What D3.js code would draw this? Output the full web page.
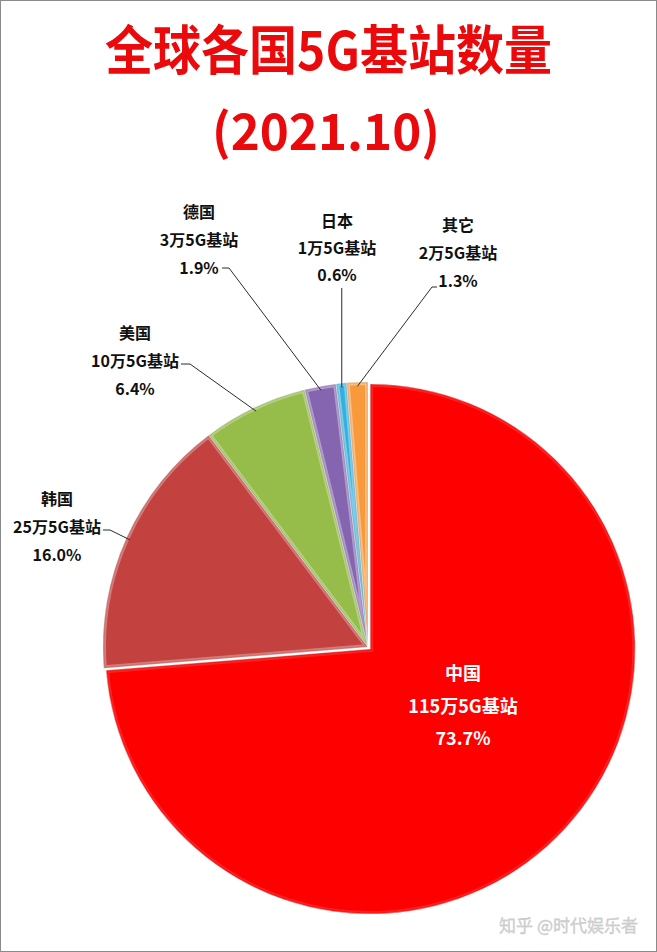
<!DOCTYPE html>
<html><head><meta charset="utf-8">
<script src="https://cdn.jsdelivr.net/npm/d3@7/dist/d3.min.js"></script>
<style>
html,body{margin:0;padding:0;background:#fff;}
svg{display:block;}
text{font-family:"Noto Sans CJK SC","Microsoft YaHei",sans-serif;}
</style></head>
<body>
<svg id="chart" width="657" height="952"></svg>
<script>
// ---- data ----
const categories = ["中国", "韩国", "美国", "德国", "日本", "其它"];
const values = [115, 25, 10, 3, 1, 2];              // 万个5G基站
const percentLabels = ["73.7%", "16.0%", "6.4%", "1.9%", "0.6%", "1.3%"];
const countLabels = ["115万5G基站", "25万5G基站", "10万5G基站", "3万5G基站", "1万5G基站", "2万5G基站"];
const titleLines = ["全球各国5G基站数量", "(2021.10)"];

// ---- styling / layout ----
const colorsTop = ["#ff0000", "#c3413e", "#96bc4a", "#8565b0", "#35b0de", "#f89a3c"];
const colorsBot = ["#fa0000", "#8c2c2a", "#789a35", "#684a92", "#1f95c4", "#e57d1d"];
const rimOpacity = [0.12, 0.3, 0.3, 0.35, 0.35, 0.35];
const W = 657, H = 952;
const cx = 368, cy = 647, R = 265;
const labelLayout = [
  {x: 463, y: 672, dy: 32.5, size: 18, color: "#fff", inside: true},
  {x: 57,  y: 498, dy: 28, size: 16, color: "#111", stub: [103, 110, 530]},
  {x: 135, y: 332, dy: 28, size: 16, color: "#111", stub: [181, 190, 364]},
  {x: 199, y: 211, dy: 28, size: 16, color: "#111", stub: [222, 229, 268]},
  {x: 337, y: 220, dy: 27, size: 16, color: "#111", vertical: 288},
  {x: 458, y: 224, dy: 28, size: 16, color: "#111", stub: [437, 432, 287]}
];
const explode = [3, 0, 0, 0, 0, 0];

const svg = d3.select("#chart");
const defs = svg.append("defs");

// frame
svg.append("rect").attr("x", 0.5).attr("y", 0.5).attr("width", W - 1).attr("height", H - 1)
  .attr("fill", "#fff").attr("stroke", "#8a8a8a").attr("stroke-width", 1);

// title
svg.append("text").attr("x", 328.5).attr("y", 47).attr("text-anchor", "middle")
  .attr("dominant-baseline", "central")
  .attr("font-size", 53).attr("font-weight", 700).attr("fill", "#ea0a0c")
  .attr("textLength", 447).attr("lengthAdjust", "spacingAndGlyphs")
  .text(titleLines[0]);
svg.append("text").attr("x", 326).attr("y", 128).attr("text-anchor", "middle")
  .attr("dominant-baseline", "central")
  .attr("font-size", 50).attr("font-weight", 700).attr("fill", "#ea0a0c")
  .attr("textLength", 228).attr("lengthAdjust", "spacingAndGlyphs")
  .text(titleLines[1]);

// pie
const pie = d3.pie().sort(null).value(d => d)(values);
const arc = d3.arc().innerRadius(0).outerRadius(R);
const leaderArc = d3.arc().innerRadius(R - 4).outerRadius(R - 4);

pie.forEach((p, i) => {
  const g = defs.append("linearGradient").attr("id", "grad" + i)
    .attr("gradientUnits", "userSpaceOnUse")
    .attr("x1", 0).attr("y1", cy - R).attr("x2", 0).attr("y2", cy + (i === 0 ? R : 20));
  g.append("stop").attr("offset", "0%").attr("stop-color", colorsTop[i]);
  g.append("stop").attr("offset", "100%").attr("stop-color", colorsBot[i]);
  defs.append("clipPath").attr("id", "clip" + i).append("path").attr("d", arc(p));
});

const slices = svg.append("g").attr("transform", `translate(${cx},${cy})`);
pie.forEach((p, i) => {
  const mid = (p.startAngle + p.endAngle) / 2;
  const ox = Math.sin(mid) * explode[i], oy = -Math.cos(mid) * explode[i];
  const sg = slices.append("g").attr("transform", `translate(${ox},${oy})`);
  sg.append("path").attr("d", arc(p)).attr("fill", `url(#grad${i})`);
  const cg = sg.append("g").attr("clip-path", `url(#clip${i})`);
  cg.append("path").attr("d", arc(p)).attr("fill", "none")
    .attr("stroke", "#ffffff").attr("stroke-opacity", rimOpacity[i]).attr("stroke-width", 6);
  cg.append("path").attr("d", arc(p)).attr("fill", "none")
    .attr("stroke", "#000").attr("stroke-opacity", 0.1).attr("stroke-width", 2.5);
  sg.append("path").attr("d", arc(p)).attr("fill", "none")
    .attr("stroke", "#fff").attr("stroke-opacity", 0.45).attr("stroke-width", 0.8);
});

// labels + leaders
const labels = svg.append("g");
pie.forEach((p, i) => {
  const L = labelLayout[i];
  const lines = [categories[i], countLabels[i], percentLabels[i]];
  lines.forEach((t, k) => {
    labels.append("text").attr("x", L.x).attr("y", L.y + k * L.dy)
      .attr("text-anchor", "middle").attr("dominant-baseline", "central")
      .attr("font-size", L.size).attr("font-weight", 700).attr("fill", L.color)
      .text(t);
  });
  if (L.inside) return;
  const c = leaderArc.centroid(p);
  const px = cx + c[0], py = cy + c[1];
  let pts;
  if (L.vertical !== undefined) {
    pts = [[px, L.vertical], [px, py]];
  } else {
    pts = [[L.stub[0], L.stub[2]], [L.stub[1], L.stub[2]], [px, py]];
  }
  labels.append("path").attr("d", d3.line()(pts)).attr("fill", "none")
    .attr("stroke", "#2b2b2b").attr("stroke-width", 1);
});

// watermark
svg.append("text").attr("x", 638).attr("y", 924).attr("text-anchor", "end")
  .attr("dominant-baseline", "central")
  .attr("font-size", 17).attr("fill", "#d4d4d4").attr("stroke", "#bdbdbd").attr("stroke-width", 0.3)
  .text("知乎 @时代娱乐者");
</script>
</body></html>
